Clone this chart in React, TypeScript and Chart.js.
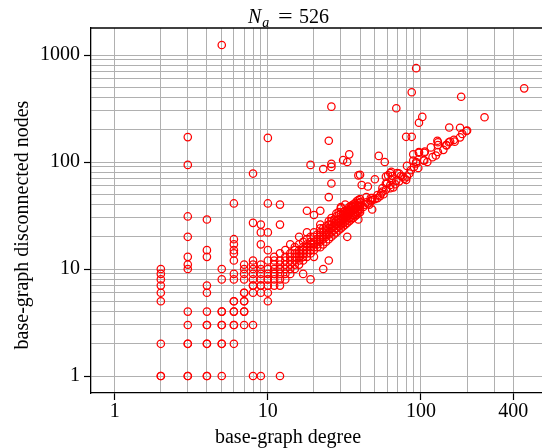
import React, { useEffect, useRef } from 'react';
import { Chart, registerables } from 'chart.js';

Chart.register(...registerables);

const FONT = '"Liberation Serif", "Times New Roman", serif';

// ---- text ----
const titleSymbol = 'N';
const titleSubscript = 'a';
const titleRest = '526';
const xAxisLabel = 'base-graph degree';
const yAxisLabel = 'base-graph disconnected nodes';

// ---- axes ----
const xMin = 0.734;
const xMax = 617;
const yMin = 0.694;
const yMax = 1788;
const xGridValues = [1, 2, 3, 4, 5, 6, 7, 8, 9, 10, 20, 30, 40, 50, 60, 70, 80, 90, 100, 200, 300, 400];
const xTickLabels = [1, 10, 100, 400];
const yGridValues = [1, 2, 3, 4, 5, 6, 7, 8, 9, 10, 20, 30, 40, 50, 60, 70, 80, 90, 100, 200, 300, 400, 500, 600, 700, 800, 900, 1000];
const yTickLabels = [1, 10, 100, 1000];

// ---- data: [degree, disconnected nodes of each node with that degree] ----
const lowDegreeColumns: [number, number[]][] = [
  [2, [1, 1, 2, 5, 6, 7, 8, 9, 10]],
  [3, [1, 1, 2, 2, 3, 4, 10, 11, 13, 20, 31, 94, 171]],
  [4, [1, 1, 2, 2, 3, 3, 4, 6, 7, 13, 15, 29]],
  [5, [1, 2, 2, 3, 3, 4, 4, 8, 10, 1240]],
  [6, [2, 3, 3, 4, 4, 5, 5, 8, 9, 12, 14, 15, 17, 19, 41]],
  [7, [3, 4, 4, 5, 5, 6, 6, 8, 9, 10, 11]],
  [8, [1, 3, 6, 7, 7, 8, 9, 10, 11, 12, 27, 78]],
  [9, [1, 6, 7, 7, 8, 9, 10, 11, 17, 22, 26]],
  [10, [5, 6, 7, 8, 8, 9, 10, 12, 15, 22, 41, 168]],
];

const bandColumns: [number, number[]][] = [
  [11, [7, 8, 9, 9, 10, 11, 12, 13]],
  [12, [1, 7, 8, 9, 10, 10, 11, 12, 14, 26, 40]],
  [13, [8, 9, 10, 11, 12, 13, 15]],
  [14, [9, 10, 11, 12, 13, 14, 17]],
  [15, [10, 11, 12, 13, 14, 15, 16]],
  [16, [11, 12, 13, 14, 15, 17, 20]],
  [17, [9, 12, 13, 14, 15, 16, 18]],
  [18, [13, 14, 15, 16, 17, 19, 22, 35]],
  [19, [8, 14, 15, 16, 17, 18, 20, 94]],
  [20, [13, 15, 16, 17, 18, 20, 22, 32]],
  [21, [16, 17, 18, 19, 21]],
  [22, [16, 18, 19, 20, 22, 24, 26, 35]],
  [23, [10, 17, 19, 20, 22, 24, 86]],
  [24, [18, 20, 21, 23, 25]],
  [25, [12, 19, 21, 22, 24, 26, 28, 47, 158]],
  [26, [20, 22, 24, 26, 28, 30, 63, 90, 96, 329]],
  [27, [21, 23, 25, 27, 29]],
  [28, [22, 24, 26, 28, 31, 33]],
  [29, [23, 25, 27, 29, 32, 34]],
  [30, [24, 26, 28, 30, 33, 37, 38]],
  [31, [25, 27, 29, 32, 34, 104]],
  [32, [26, 28, 30, 33, 35, 40]],
  [33, [20, 27, 29, 31, 33, 34, 36, 100]],
  [34, [28, 30, 33, 35, 36, 38, 118]],
  [35, [29, 31, 34, 37, 39]],
  [36, [30, 32, 35, 38, 40]],
  [37, [31, 33, 36, 39, 41]],
  [38, [32, 34, 37, 40, 43]],
  [39, [29, 33, 35, 38, 39, 41, 44, 75]],
  [40, [34, 36, 39, 42, 45, 76]],
];

const highDegreePoints: [number, number][] = [
  [41, 61], [42, 38], [43, 40], [44, 42], [44, 47], [45, 41], [45, 59], [46, 40],
  [47, 43], [47, 46], [48, 36], [48, 44], [48, 46], [50, 45], [50, 69], [52, 46],
  [52, 49], [54, 48], [55, 51], [56, 53], [56, 57], [57, 50], [59, 55], [59, 63],
  [59, 73], [60, 63], [61, 75], [63, 57], [63, 61], [63, 79], [64, 68], [64, 81],
  [65, 74], [66, 58], [68, 62], [69, 67], [70, 79], [72, 66], [72, 78], [74, 74],
  [76, 73], [78, 70], [80, 68], [81, 73], [81, 92], [84, 78], [86, 84], [89, 103],
  [89, 118], [90, 90], [93, 97], [93, 100], [96, 88], [97, 122], [97, 124], [104, 104],
  [105, 103], [105, 122], [106, 125], [110, 100], [116, 137], [119, 111], [125, 115],
  [128, 158], [129, 124], [129, 144], [129, 153], [140, 130], [146, 144], [147, 143],
  [152, 153], [153, 210], [155, 155], [164, 161], [166, 155], [180, 170], [180, 209],
  [186, 183], [198, 195], [200, 197],
];

const outlierPoints: [number, number][] = [
  [53, 114], [58, 100], [69, 318], [80, 172], [87, 172], [87, 449], [93, 753],
  [97, 233], [102, 264], [183, 407], [260, 262], [472, 488],
];

function buildPoints() {
  const pts: { x: number; y: number }[] = [];
  for (const [d, ys] of lowDegreeColumns) for (const y of ys) pts.push({ x: d, y });
  for (const [d, ys] of bandColumns) for (const y of ys) pts.push({ x: d, y });
  for (const [x, y] of highDegreePoints) pts.push({ x, y });
  for (const [x, y] of outlierPoints) pts.push({ x, y });
  return pts;
}

const textPlugin = {
  id: 'frameAndText',
  afterDraw(chart: any) {
    const { ctx, chartArea } = chart;
    ctx.save();
    // top frame line
    ctx.strokeStyle = '#000';
    ctx.lineWidth = 1.3;
    ctx.beginPath();
    ctx.moveTo(chartArea.left, chartArea.top);
    ctx.lineTo(chartArea.right, chartArea.top);
    ctx.stroke();

    ctx.fillStyle = '#000';
    ctx.textBaseline = 'alphabetic';
    // title
    ctx.textAlign = 'left';
    ctx.font = `italic 20px ${FONT}`;
    ctx.fillText(titleSymbol, 248, 23);
    const wN = ctx.measureText(titleSymbol).width;
    ctx.font = `italic 14px ${FONT}`;
    ctx.fillText(titleSubscript, 248 + wN + 1, 27);
    ctx.font = `20px ${FONT}`;
    ctx.save();
    ctx.translate(278, 23);
    ctx.scale(1.3, 1);
    ctx.fillText('=', 0, 0);
    ctx.restore();
    ctx.fillText(titleRest, 299, 23);

    // x axis label
    ctx.textAlign = 'center';
    ctx.font = `20px ${FONT}`;
    ctx.fillText(xAxisLabel, 288, 443);

    // y axis label
    ctx.translate(28, 225);
    ctx.rotate(-Math.PI / 2);
    ctx.fillText(yAxisLabel, 0, 0);
    ctx.restore();
  },
};

export default function App() {
  const canvasRef = useRef<HTMLCanvasElement | null>(null);

  useEffect(() => {
    const canvas = canvasRef.current;
    if (!canvas) return;
    const chart = new Chart(canvas, {
      type: 'scatter',
      data: {
        datasets: [
          {
            data: buildPoints(),
            pointStyle: 'circle',
            pointRadius: 3.7,
            pointBorderWidth: 1.25,
            borderColor: '#ff0000',
            backgroundColor: 'rgba(0,0,0,0)',
            pointBackgroundColor: 'rgba(0,0,0,0)',
            pointBorderColor: '#ff0000',
            showLine: false,
          } as any,
        ],
      },
      options: {
        responsive: false,
        animation: false,
        devicePixelRatio: 1,
        events: [],
        layout: { autoPadding: false, padding: { top: 28, left: 0, right: 0, bottom: 0 } },
        plugins: {
          legend: { display: false },
          tooltip: { enabled: false },
          title: { display: false },
        },
        scales: {
          x: {
            type: 'logarithmic',
            position: 'bottom',
            min: xMin,
            max: xMax,
            afterBuildTicks: (scale: any) => {
              scale.ticks = xGridValues.map((v) => ({ value: v }));
            },
            afterFit: (scale: any) => {
              scale.height = 55;
              scale.paddingLeft = 0;
              scale.paddingRight = 0;
            },
            ticks: {
              autoSkip: false,
              maxRotation: 0,
              minRotation: 0,
              padding: 0,
              color: '#000',
              font: { family: FONT, size: 20 },
              callback: (v: any) => (xTickLabels.includes(Number(v)) ? String(v) : ''),
            },
            grid: {
              color: '#b0b0b0',
              lineWidth: 1,
              drawTicks: true,
              tickLength: 7,
              tickWidth: 1.2,
              tickColor: (c: any) =>
                c.tick && xTickLabels.includes(c.tick.value) ? '#000' : 'rgba(0,0,0,0)',
            },
            border: { display: true, color: '#000', width: 1.3 },
          },
          y: {
            type: 'logarithmic',
            position: 'left',
            min: yMin,
            max: yMax,
            afterBuildTicks: (scale: any) => {
              scale.ticks = yGridValues.map((v) => ({ value: v }));
            },
            afterFit: (scale: any) => {
              scale.width = 91;
              scale.paddingTop = 0;
              scale.paddingBottom = 0;
            },
            ticks: {
              autoSkip: false,
              padding: 4,
              color: '#000',
              font: { family: FONT, size: 20 },
              callback: (v: any) => (yTickLabels.includes(Number(v)) ? String(v) : ''),
            },
            grid: {
              color: '#b0b0b0',
              lineWidth: 1,
              drawTicks: true,
              tickLength: 7,
              tickWidth: 1.2,
              tickColor: (c: any) =>
                c.tick && yTickLabels.includes(c.tick.value) ? '#000' : 'rgba(0,0,0,0)',
            },
            border: { display: true, color: '#000', width: 1.3 },
          },
        },
      } as any,
      plugins: [textPlugin],
    });
    return () => chart.destroy();
  }, []);

  return (
    <div style={{ position: 'absolute', left: 0, top: 0, width: 542, height: 448, background: '#fff', overflow: 'hidden' }}>
      <canvas ref={canvasRef} width={542} height={448} style={{ width: 542, height: 448, display: 'block' }} />
    </div>
  );
}
